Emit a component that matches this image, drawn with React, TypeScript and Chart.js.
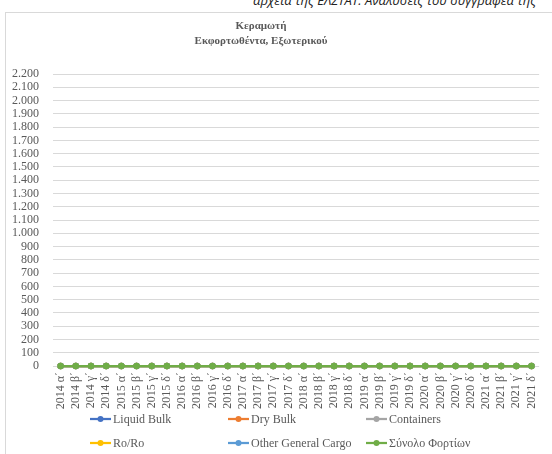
import React, { useEffect, useRef } from "react";
import { Chart, registerables } from "chart.js";

Chart.register(...registerables);

const categories = [
  "2014 α΄", "2014 β΄", "2014 γ΄", "2014 δ΄",
  "2015 α΄", "2015 β΄", "2015 γ΄", "2015 δ΄",
  "2016 α΄", "2016 β΄", "2016 γ΄", "2016 δ΄",
  "2017 α΄", "2017 β΄", "2017 γ΄", "2017 δ΄",
  "2018 α΄", "2018 β΄", "2018 γ΄", "2018 δ΄",
  "2019 α΄", "2019 β΄", "2019 γ΄", "2019 δ΄",
  "2020 α΄", "2020 β΄", "2020 γ΄", "2020 δ΄",
  "2021 α΄", "2021 β΄", "2021 γ΄", "2021 δ΄",
];

const liquidBulk = [0, 0, 0, 0, 0, 0, 0, 0, 0, 0, 0, 0, 0, 0, 0, 0, 0, 0, 0, 0, 0, 0, 0, 0, 0, 0, 0, 0, 0, 0, 0, 0];
const dryBulk = [0, 0, 0, 0, 0, 0, 0, 0, 0, 0, 0, 0, 0, 0, 0, 0, 0, 0, 0, 0, 0, 0, 0, 0, 0, 0, 0, 0, 0, 0, 0, 0];
const containers = [0, 0, 0, 0, 0, 0, 0, 0, 0, 0, 0, 0, 0, 0, 0, 0, 0, 0, 0, 0, 0, 0, 0, 0, 0, 0, 0, 0, 0, 0, 0, 0];
const roRo = [0, 0, 0, 0, 0, 0, 0, 0, 0, 0, 0, 0, 0, 0, 0, 0, 0, 0, 0, 0, 0, 0, 0, 0, 0, 0, 0, 0, 0, 0, 0, 0];
const otherGeneralCargo = [0, 0, 0, 0, 0, 0, 0, 0, 0, 0, 0, 0, 0, 0, 0, 0, 0, 0, 0, 0, 0, 0, 0, 0, 0, 0, 0, 0, 0, 0, 0, 0];
const totalCargo = [0, 0, 0, 0, 0, 0, 0, 0, 0, 0, 0, 0, 0, 0, 0, 0, 0, 0, 0, 0, 0, 0, 0, 0, 0, 0, 0, 0, 0, 0, 0, 0];

const seriesNames = ["Liquid Bulk", "Dry Bulk", "Containers", "Ro/Ro", "Other General Cargo", "Σύνολο Φορτίων"];
const seriesColors = ["#4472C4", "#ED7D31", "#A5A5A5", "#FFC000", "#5B9BD5", "#70AD47"];
const seriesValues = [liquidBulk, dryBulk, containers, roRo, otherGeneralCargo, totalCargo];

const titleLines = ["Κεραμωτή", "Εκφορτωθέντα, Εξωτερικού"];
const yMin = 0;
const yMax = 2200;
const yStep = 100;

const TEXT = "#595959";
const FONT = "\"Liberation Serif\", serif";

const titlePlugin = {
  id: "customTitle",
  afterDraw(chart: any) {
    const ctx = chart.ctx;
    ctx.save();
    ctx.fillStyle = TEXT;
    ctx.font = `bold 11px ${FONT}`;
    ctx.textAlign = "center";
    ctx.textBaseline = "middle";
    titleLines.forEach((t, i) => ctx.fillText(t, 255, 13 + i * 15));
    ctx.restore();
  },
};

const legendPlugin = {
  id: "gridLegend",
  afterDraw(chart: any) {
    const ctx = chart.ctx;
    ctx.save();
    ctx.font = `12px ${FONT}`;
    ctx.textBaseline = "middle";
    ctx.textAlign = "left";
    chart.data.datasets.forEach((ds: any, i: number) => {
      const col = i % 3;
      const row = Math.floor(i / 3);
      const x = 84 + col * 138;
      const y = 406 + row * 24;
      ctx.strokeStyle = ds.borderColor;
      ctx.lineWidth = 2.25;
      ctx.beginPath();
      ctx.moveTo(x, y);
      ctx.lineTo(x + 21, y);
      ctx.stroke();
      ctx.fillStyle = ds.borderColor;
      ctx.beginPath();
      ctx.arc(x + 10.5, y, 3, 0, Math.PI * 2);
      ctx.fill();
      ctx.fillStyle = TEXT;
      ctx.fillText(ds.label, x + 23, y + 0.5);
    });
    ctx.restore();
  },
};

export default function App() {
  const canvasRef = useRef<HTMLCanvasElement | null>(null);

  useEffect(() => {
    let chart: Chart | null = null;
    let cancelled = false;
    const build = () => {
      if (cancelled || !canvasRef.current) return;
      chart = new Chart(canvasRef.current, {
        type: "line",
        data: {
          labels: categories,
          datasets: seriesNames.map((name, i) => ({
            label: name,
            data: seriesValues[i],
            borderColor: seriesColors[i],
            backgroundColor: seriesColors[i],
            borderWidth: 2.25,
            pointRadius: 3.2,
            pointBorderWidth: 0,
            pointBackgroundColor: seriesColors[i],
            fill: false,
            tension: 0,
            clip: false,
            order: seriesNames.length - i,
          })),
        },
        options: {
          responsive: false,
          animation: false,
          layout: { padding: { left: 0, right: 5, top: 61, bottom: 0 } },
          plugins: {
            legend: { display: false },
            title: { display: false },
            tooltip: { enabled: false },
          },
          scales: {
            x: {
              offset: true,
              grid: { display: false, drawTicks: false },
              border: { display: false },
              ticks: {
                autoSkip: false,
                minRotation: 90,
                maxRotation: 90,
                padding: 6,
                color: TEXT,
                font: { family: FONT, size: 12 },
              },
              afterFit: (s: any) => {
                s.height = 88;
              },
            },
            y: {
              min: yMin,
              max: yMax,
              grid: { color: "#d9d9d9", lineWidth: 1, drawTicks: false },
              border: { display: false },
              ticks: {
                stepSize: yStep,
                autoSkip: false,
                padding: 14,
                color: TEXT,
                font: { family: FONT, size: 12 },
                callback: (v: any) => String(v).replace(/\B(?=(\d{3})+(?!\d))/g, "."),
              },
              afterFit: (s: any) => {
                s.width = 47;
              },
            },
          },
        },
        plugins: [titlePlugin, legendPlugin],
      });
    };
    const fonts: any = (document as any).fonts;
    if (fonts && fonts.load) {
      Promise.all([
        fonts.load(`12px "Liberation Serif"`),
        fonts.load(`bold 11px "Liberation Serif"`),
      ]).then(build, build);
    } else {
      build();
    }
    return () => {
      cancelled = true;
      if (chart) chart.destroy();
    };
  }, []);

  return (
    <div
      style={{
        position: "fixed",
        left: 0,
        top: 0,
        width: 552,
        height: 454,
        overflow: "hidden",
        background: "#fff",
      }}
    >
      <div
        style={{
          position: "absolute",
          left: 253,
          top: -7,
          whiteSpace: "nowrap",
          fontFamily: "'Open Sans', 'Noto Sans', sans-serif",
          fontStyle: "italic",
          fontSize: 13,
          lineHeight: "14px",
          color: "#222",
        }}
      >
        αρχεία της ΕΛΣΤΑΤ. Αναλύσεις του συγγραφέα της
      </div>
      <div
        style={{
          position: "absolute",
          left: 5,
          top: 12,
          width: 547,
          height: 442,
          borderLeft: "1px solid #d9d9d9",
          borderTop: "1px solid #d9d9d9",
        }}
      >
        <canvas ref={canvasRef} width={546} height={441} style={{ display: "block" }} />
      </div>
    </div>
  );
}
